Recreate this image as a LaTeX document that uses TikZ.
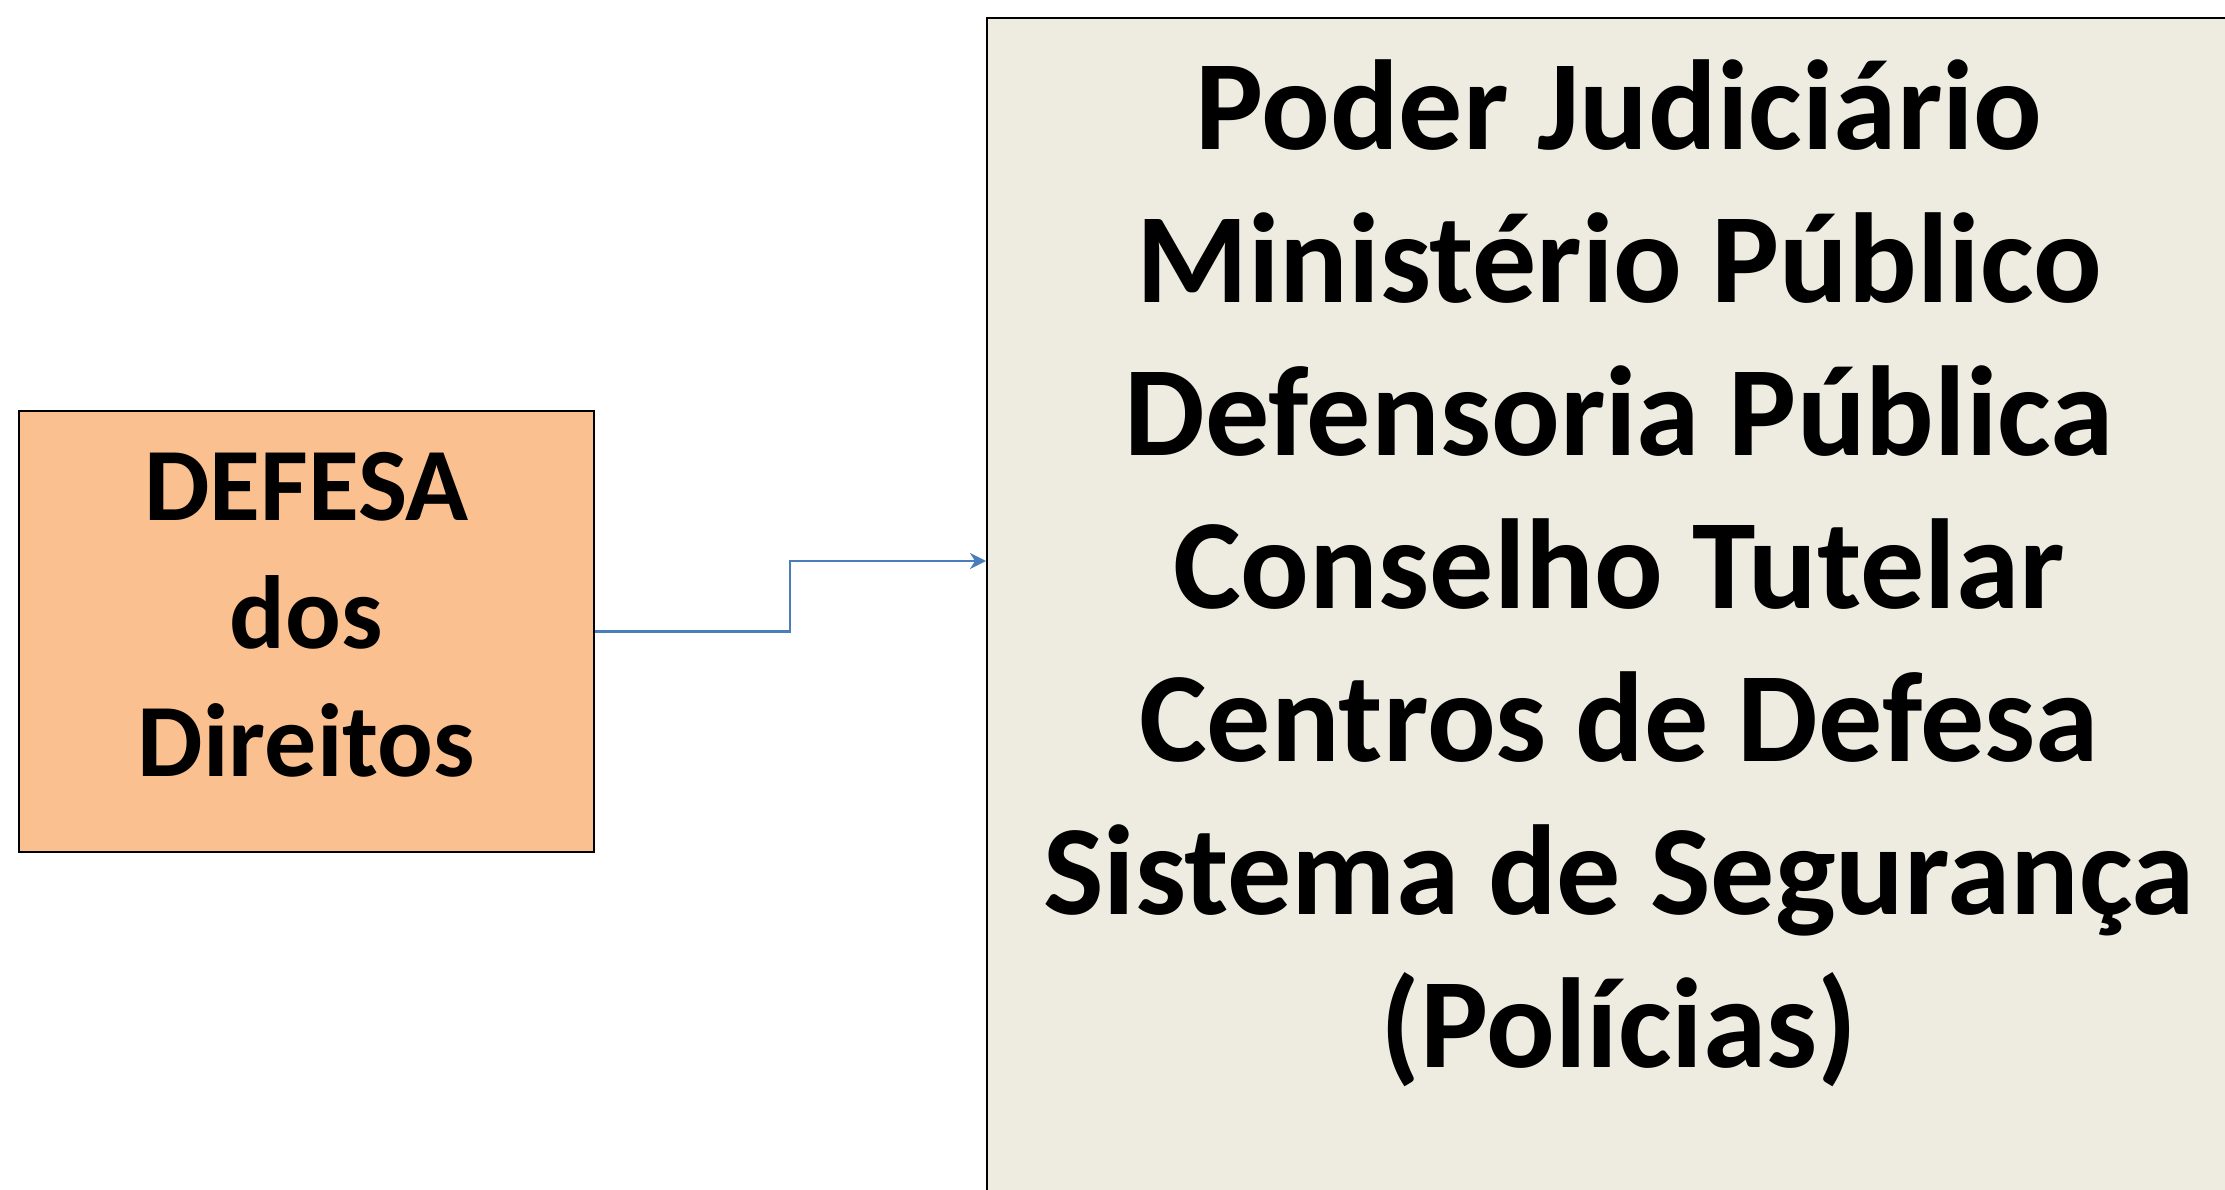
\documentclass[tikz,border=0pt]{standalone}
\usepackage{fontspec}
\setmainfont{Carlito}
\usetikzlibrary{arrows.meta, positioning}
\definecolor{pessego}{HTML}{FAC090}
\definecolor{bege}{HTML}{EEECE1}
\definecolor{azul}{HTML}{4A7EBB}

\begin{document}
\begin{tikzpicture}[x=1pt, y=-1pt,
  caixa/.style={draw, line width=2pt, inner sep=0pt, align=center, anchor=north west},
  conector/.style={draw=azul, line width=2.6pt, -{Stealth[length=16pt, width=16pt, inset=5pt]}}]
  \useasboundingbox (0,0) rectangle (2225,1190);

  \node[caixa, fill=pessego, minimum width=575pt,
  text height=365pt, text depth=76pt,
  font=\fontsize{104}{128}\selectfont\bfseries] (defesa) at (18,410)
  {DEFESA\\dos\\Direitos};

  \node[caixa, fill=bege, minimum width=1264pt,
  text height=1049pt, text depth=194pt,
  font=\fontsize{128}{153}\selectfont\bfseries] (orgaos) at (986,17)
  { Poder Judiciário\\
    Ministério Público\\
    Defensoria Pública\\
    Conselho Tutelar\\
    Centros de Defesa\\
    Sistema de Segurança\\
    (Polícias)
  };

  \coordinate (dobra) at (790,561);
  \draw[conector] (defesa.east) -| (dobra) -- (dobra -| orgaos.west);
\end{tikzpicture}
\end{document}
